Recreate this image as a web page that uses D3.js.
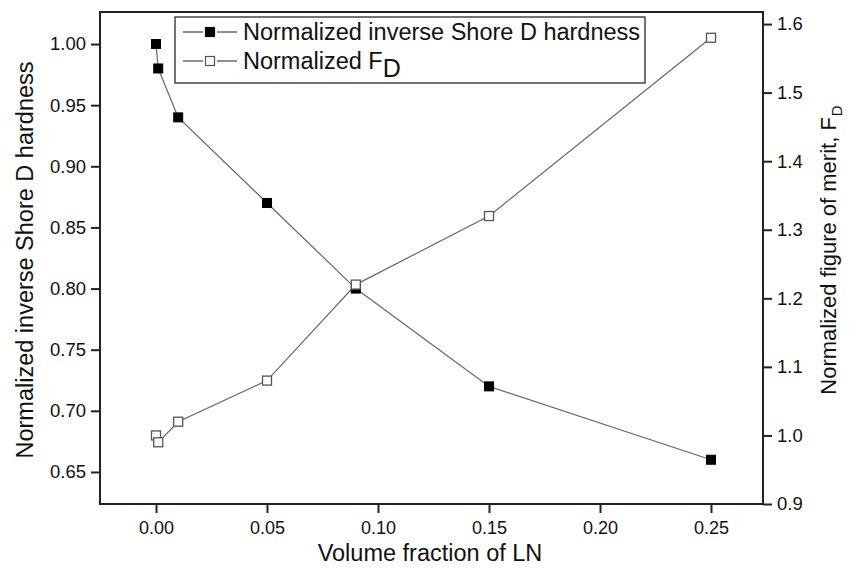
<!DOCTYPE html>
<html>
<head>
<meta charset="utf-8">
<script src="https://cdn.jsdelivr.net/npm/d3@7"></script>
<style>
  html, body { margin: 0; padding: 0; background: #fff; }
  svg { display: block; font-family: "Liberation Sans", Arial, sans-serif; }
</style>
</head>
<body>
<svg id="chart" width="854" height="568"></svg>
<script>
// ---- data ----
const volumeFraction = [0, 0.001, 0.01, 0.05, 0.09, 0.15, 0.25];
const invShoreHardness = [1.00, 0.98, 0.94, 0.87, 0.80, 0.72, 0.66];
const figureOfMerit = [1.00, 0.99, 1.02, 1.08, 1.22, 1.32, 1.58];
const xTicks = [0.00, 0.05, 0.10, 0.15, 0.20, 0.25];
const leftTicks = [0.65, 0.70, 0.75, 0.80, 0.85, 0.90, 0.95, 1.00];
const rightTicks = [0.9, 1.0, 1.1, 1.2, 1.3, 1.4, 1.5, 1.6];

// ---- layout ----
const L = 100, R = 763, T = 12, B = 504;
const svg = d3.select("#chart");

const x = d3.scaleLinear().domain([-0.025225, 0.273423]).range([L, R]);
const yL = d3.scaleLinear().domain([0.6238, 1.0262]).range([B, T]);
const yR = d3.scaleLinear().domain([0.9, 1.6176]).range([B, T]);

const axisColor = "#222";
const lineColor = "#666";

function styleAxis(g, fs) {
  g.select(".domain").remove();
  g.selectAll(".tick line").attr("stroke", axisColor).attr("stroke-width", 2);
  g.selectAll(".tick text").attr("fill", "#111").style("font-size", fs + "px")
    .style("font-family", "'Liberation Sans', Arial, sans-serif");
}

svg.append("g").attr("transform", `translate(0,${B})`)
  .call(d3.axisBottom(x).tickValues(xTicks).tickFormat(d3.format(".2f")).tickSize(9).tickPadding(8).tickSizeOuter(0))
  .call(g => styleAxis(g, 18));

svg.append("g").attr("transform", `translate(${L},0)`)
  .call(d3.axisLeft(yL).tickValues(leftTicks).tickFormat(d3.format(".2f")).tickSize(9).tickPadding(5).tickSizeOuter(0))
  .call(g => styleAxis(g, 18.5));

svg.append("g").attr("transform", `translate(${R},0)`)
  .call(d3.axisRight(yR).tickValues(rightTicks).tickFormat(d3.format(".1f")).tickSize(9).tickPadding(5).tickSizeOuter(0))
  .call(g => styleAxis(g, 18.5));

// frame
svg.append("rect").attr("x", L).attr("y", T).attr("width", R - L).attr("height", B - T)
  .attr("fill", "none").attr("stroke", axisColor).attr("stroke-width", 2);

// ---- series ----
const idx = d3.range(volumeFraction.length);
const sq = 9;

const lineL = d3.line().x(i => x(volumeFraction[i])).y(i => yL(invShoreHardness[i]));
const lineR = d3.line().x(i => x(volumeFraction[i])).y(i => yR(figureOfMerit[i]));

svg.append("path").attr("d", lineL(idx)).attr("fill", "none").attr("stroke", lineColor).attr("stroke-width", 1.2);
svg.append("path").attr("d", lineR(idx)).attr("fill", "none").attr("stroke", lineColor).attr("stroke-width", 1.2);

svg.append("g").selectAll("rect").data(idx).join("rect")
  .attr("x", i => x(volumeFraction[i]) - sq / 2)
  .attr("y", i => yL(invShoreHardness[i]) - sq / 2)
  .attr("width", sq).attr("height", sq)
  .attr("fill", "#000").attr("stroke", "#000").attr("stroke-width", 1);

svg.append("g").selectAll("rect").data(idx).join("rect")
  .attr("x", i => x(volumeFraction[i]) - sq / 2)
  .attr("y", i => yR(figureOfMerit[i]) - sq / 2)
  .attr("width", sq).attr("height", sq)
  .attr("fill", "#fff").attr("stroke", "#555").attr("stroke-width", 1.3);

// ---- legend ----
const lg = svg.append("g");
lg.append("rect").attr("x", 175).attr("y", 17).attr("width", 470).attr("height", 66)
  .attr("fill", "#fff").attr("stroke", "#444").attr("stroke-width", 1.5);

const rows = [
  { y: 32, fill: "#000", stroke: "#000" },
  { y: 61, fill: "#fff", stroke: "#555" }
];
rows.forEach(r => {
  lg.append("line").attr("x1", 183).attr("x2", 203).attr("y1", r.y).attr("y2", r.y).attr("stroke", "#444").attr("stroke-width", 1.2);
  lg.append("line").attr("x1", 217).attr("x2", 237).attr("y1", r.y).attr("y2", r.y).attr("stroke", "#444").attr("stroke-width", 1.2);
  lg.append("rect").attr("x", 210 - sq / 2).attr("y", r.y - sq / 2).attr("width", sq).attr("height", sq)
    .attr("fill", r.fill).attr("stroke", r.stroke).attr("stroke-width", 1.2);
});
lg.append("text").attr("x", 243).attr("y", 40).style("font-size", "23.5px").attr("fill", "#111")
  .text("Normalized inverse Shore D hardness");
const t2 = lg.append("text").attr("x", 243).attr("y", 69).style("font-size", "23.5px").attr("fill", "#111");
t2.append("tspan").text("Normalized F");
t2.append("tspan").attr("dy", 8).style("font-size", "25px").text("D");

// ---- axis titles ----
svg.append("text").attr("x", 430).attr("y", 561).attr("text-anchor", "middle")
  .style("font-size", "23.5px").attr("fill", "#111").text("Volume fraction of LN");

svg.append("text").attr("transform", "translate(33,260) rotate(-90)").attr("text-anchor", "middle")
  .style("font-size", "23.5px").attr("fill", "#111").text("Normalized inverse Shore D hardness");

const rt = svg.append("text").attr("transform", "translate(836,250) rotate(-90)").attr("text-anchor", "middle")
  .style("font-size", "22px").attr("fill", "#111");
rt.append("tspan").text("Normalized figure of merit, F");
rt.append("tspan").attr("dy", 6).attr("dx", 1).style("font-size", "15px").text("D");
</script>
</body>
</html>
